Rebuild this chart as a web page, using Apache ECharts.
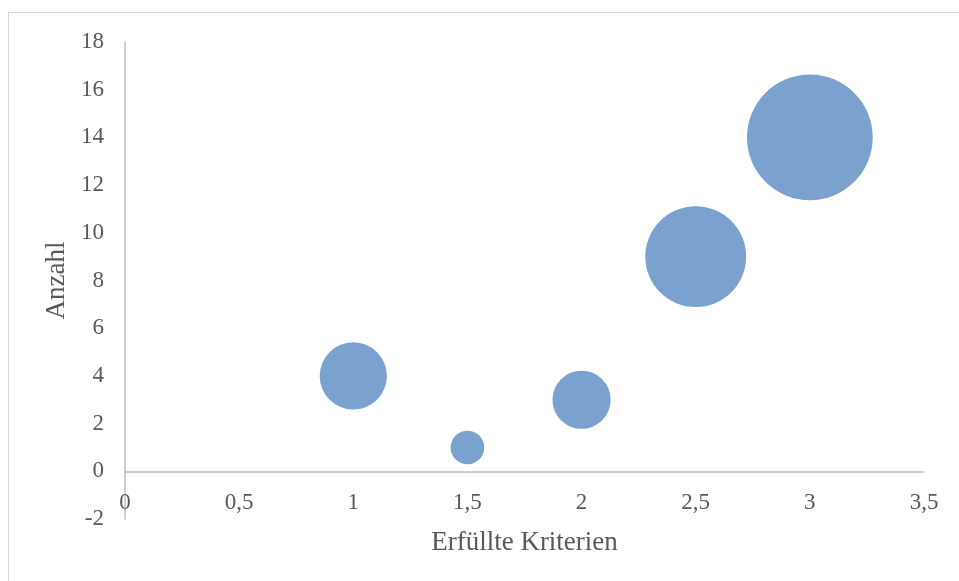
<!DOCTYPE html>
<html>
<head>
<meta charset="utf-8">
<script src="https://cdn.jsdelivr.net/npm/echarts@6/dist/echarts.min.js"></script>
<style>
  html, body { margin: 0; padding: 0; background: #fff; }
  #chart { width: 959px; height: 581px; position: relative; }
  #frame { position: absolute; left: 8px; top: 12px; width: 960px; height: 580px; border: 1px solid #d9d9d9; box-sizing: border-box; pointer-events: none; }
</style>
</head>
<body>
<div id="chart"></div>
<div id="frame"></div>
<script>
// Erfüllte Kriterien vs. Anzahl, bubble area proportional to bubble size
const criteria = [1, 1.5, 2, 2.5, 3];
const counts = [4, 1, 3, 9, 14];
const bubbleSizes = [4, 1, 3, 9, 14];

const xTitle = 'Erfüllte Kriterien';
const yTitle = 'Anzahl';

const font = '"Liberation Serif", "Times New Roman", serif';
const textColor = '#595959';
const axisColor = '#bfbfbf';

const points = criteria.map((x, i) => [x, counts[i], bubbleSizes[i]]);

const chart = echarts.init(document.getElementById('chart'), null, { renderer: 'canvas' });
chart.setOption({
  animation: false,
  backgroundColor: 'transparent',
  grid: {
    left: 125, right: 35, top: 42, bottom: 62,
    containLabel: false,
    outerBoundsMode: 'none'
  },
  xAxis: {
    type: 'value',
    min: 0,
    max: 3.5,
    interval: 0.5,
    name: xTitle,
    nameLocation: 'middle',
    nameGap: 10,
    nameTextStyle: { fontFamily: font, fontSize: 27, color: textColor },
    axisLine: { show: true, onZero: true, lineStyle: { color: axisColor, width: 1.5 } },
    axisTick: { show: false },
    splitLine: { show: false },
    axisLabel: {
      margin: -28,
      fontFamily: font,
      fontSize: 23,
      color: textColor,
      formatter: v => String(v).replace('.', ',')
    }
  },
  yAxis: {
    type: 'value',
    min: -2,
    max: 18,
    interval: 2,
    name: yTitle,
    nameLocation: 'middle',
    nameGap: 55,
    nameRotate: 90,
    nameTextStyle: { fontFamily: font, fontSize: 27, color: textColor },
    axisLine: { show: true, onZero: false, lineStyle: { color: axisColor, width: 1.5 } },
    axisTick: { show: false },
    splitLine: { show: false },
    axisLabel: {
      margin: 21,
      fontFamily: font,
      fontSize: 23,
      color: textColor
    }
  },
  series: [{
    type: 'scatter',
    data: points,
    symbol: 'circle',
    symbolSize: d => 33.6 * Math.sqrt(d[2]),
    itemStyle: { color: '#7ba1ce', opacity: 1 }
  }]
});
</script>
</body>
</html>
